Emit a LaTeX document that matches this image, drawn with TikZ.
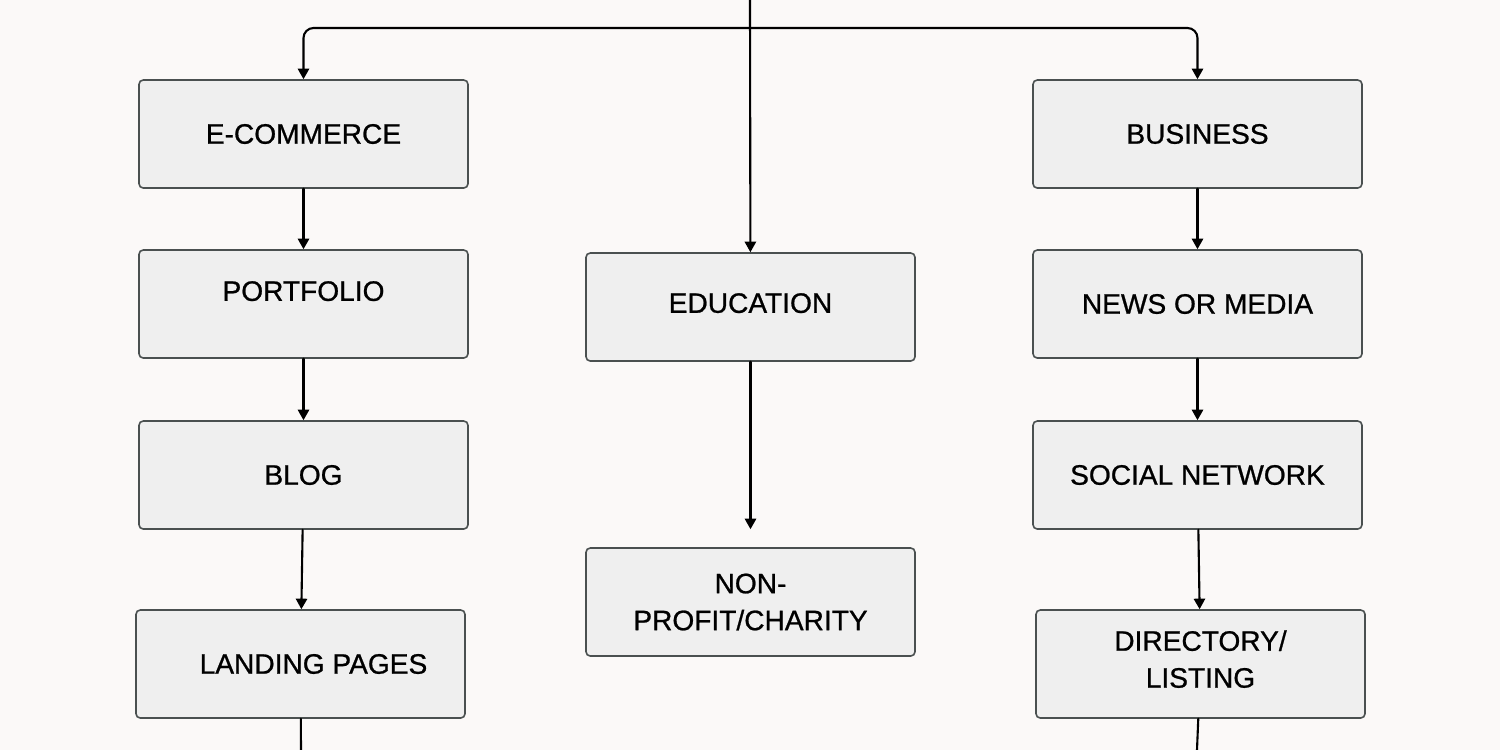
\documentclass[tikz,border=0pt]{standalone}
\usepackage{fontspec}
\setmainfont{Liberation Sans}
\newfontfamily\sitefont{Liberation Sans}[FakeBold=0.8]
\usepackage{tikz}
\usetikzlibrary{calc}
\usetikzlibrary{arrows.meta}
\definecolor{paper}{HTML}{FBF9F8}
\definecolor{boxfill}{HTML}{EFEFEF}
\definecolor{boxline}{HTML}{4A5050}

\begin{document}
\begin{tikzpicture}[line cap = round, line join = round, >={Triangle[length=3pt,width=3.2pt]}, font=\sitefont\fontsize{8pt}{10.5pt}\selectfont]
\tikzstyle{site}=[draw=boxline, fill=boxfill, rectangle, rounded corners=1.2pt, line width=0.45pt, minimum width=3.29cm, minimum height=1.08cm, align=center, inner sep=0pt]
\tikzstyle{link}=[line width=0.6pt, ->, color=black]
\fill[paper] (0,0) rectangle (15,-7.5);
\useasboundingbox (0,0) rectangle (15,-7.5);

\node[site] (ecom) at (3.035,-1.34) {E-COMMERCE};
\node[site, text depth=0.26cm] (port) at (3.035,-3.04) {PORTFOLIO};
\node[site] (blog) at (3.035,-4.75) {BLOG};
\node[site] (land) at (3.005,-6.64) {\hspace*{0.26cm}LANDING PAGES};
\node[site, text depth=0.08cm] (edu)  at (7.505,-3.07) {EDUCATION};
\node[site] (np)   at (7.505,-6.02) {NON-\\PROFIT/CHARITY};
\node[site] (bus)  at (11.975,-1.34) {BUSINESS};
\node[site] (news) at (11.975,-3.04) {NEWS OR MEDIA};
\node[site] (soc)  at (11.975,-4.75) {SOCIAL NETWORK};
\node[site, text depth=0.1cm] (dir)  at (12.005,-6.64) {DIRECTORY/\\LISTING};
\coordinate (top) at (7.5,0);
\coordinate (hub) at (7.5,-0.28);
\coordinate (landend) at (3.01,-7.5);
\coordinate (dirend) at (11.97,-7.5);

\draw[link] (top) -- (edu);
\draw[link, rounded corners=0.1cm] (hub) -| (ecom);
\draw[link, rounded corners=0.1cm] (hub) -| (bus);
\draw[link] (ecom) -- (port);
\draw[link] (port) -- (blog);
\draw[link] (blog) -- (land);
\draw[link, shorten >=0.18cm] (edu) -- (np);
\draw[link] (bus) -- (news);
\draw[link] (news) -- (soc);
\draw[link] (soc) -- (dir);
\draw[line width=0.6pt] (land) -- (landend);
\draw[line width=0.6pt] (dir) -- (dirend);
%\draw (hub) circle (0.05);
\end{tikzpicture}
\end{document}
